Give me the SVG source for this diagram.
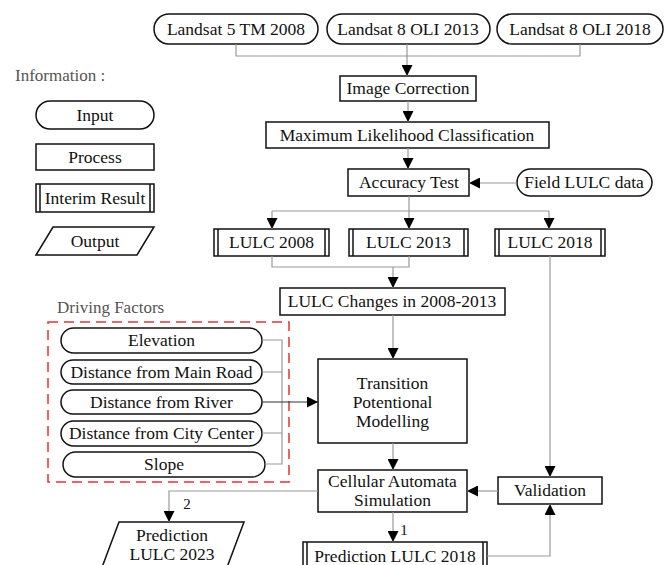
<svg xmlns="http://www.w3.org/2000/svg" width="671" height="565" viewBox="0 0 671 565">
<style>
text{font-family:"Liberation Serif","Times New Roman",serif;font-size:17.5px;fill:#111;text-anchor:middle}
.lbl{font-size:17px;fill:#555;text-anchor:start}
.box{fill:#fff;stroke:#111;stroke-width:1.5}
.ln{fill:none;stroke:#999;stroke-width:1.2}
.lnd{fill:none;stroke:#333;stroke-width:1.2}
.dash{fill:none;stroke:#e8322f;stroke-width:1.5;stroke-dasharray:10 6}
</style>
<defs>
<marker id="ah" viewBox="0 0 10 10" refX="10" refY="5" markerWidth="11" markerHeight="11" markerUnits="userSpaceOnUse" orient="auto">
<path d="M0,0 L10,5 L0,10 Z" fill="#000"/>
</marker>
</defs>

<!-- legend -->
<g id="legend">
<text class="lbl" x="15" y="81">Information :</text>
<rect class="box" x="36" y="101" width="118" height="28" rx="14"/>
<text x="95" y="121">Input</text>
<rect class="box" x="36" y="144" width="118" height="26"/>
<text x="95" y="163">Process</text>
<rect class="box" x="36" y="184" width="118" height="28"/>
<line class="box" x1="40" y1="184" x2="40" y2="212"/>
<line class="box" x1="150" y1="184" x2="150" y2="212"/>
<text x="95" y="204">Interim Result</text>
<polygon class="box" points="53,227 154,227 137,255 36,255"/>
<text x="95" y="247">Output</text>
</g>

<g id="in2008"><rect class="box" x="154" y="14" width="164" height="30" rx="15"/><text x="236" y="35">Landsat 5 TM 2008</text></g>
<g id="in2013"><rect class="box" x="327" y="14" width="163" height="30" rx="15"/><text x="408" y="35">Landsat 8 OLI 2013</text></g>
<g id="in2018"><rect class="box" x="497" y="14" width="166" height="30" rx="15"/><text x="580" y="35">Landsat 8 OLI 2018</text></g>

<g id="imgcorr"><rect class="box" x="340" y="76" width="136" height="25"/><text x="408" y="94">Image Correction</text></g>
<g id="mlc"><rect class="box" x="266" y="122" width="283" height="26"/><text x="407" y="141">Maximum Likelihood Classification</text></g>
<g id="acc"><rect class="box" x="348" y="169" width="121" height="27"/><text x="409" y="188">Accuracy Test</text></g>
<g id="field"><rect class="box" x="517" y="169" width="135" height="27" rx="13.5"/><text x="584" y="188">Field LULC data</text></g>

<g id="lulc2008"><rect class="box" x="214" y="229" width="115" height="27"/><line class="box" x1="218" y1="229" x2="218" y2="256"/><line class="box" x1="325" y1="229" x2="325" y2="256"/><text x="271.5" y="248">LULC 2008</text></g>
<g id="lulc2013"><rect class="box" x="349" y="229" width="119" height="27"/><line class="box" x1="353" y1="229" x2="353" y2="256"/><line class="box" x1="464" y1="229" x2="464" y2="256"/><text x="408.5" y="248">LULC 2013</text></g>
<g id="lulc2018"><rect class="box" x="495" y="229" width="110" height="27"/><line class="box" x1="499" y1="229" x2="499" y2="256"/><line class="box" x1="601" y1="229" x2="601" y2="256"/><text x="550" y="248">LULC 2018</text></g>

<g id="changes"><rect class="box" x="280" y="288" width="225" height="27"/><text x="392" y="307">LULC Changes in 2008-2013</text></g>

<g id="driving">
<text class="lbl" x="57" y="313">Driving Factors</text>
<rect class="dash" x="48" y="322" width="241" height="160"/>
</g>
<g id="elev"><rect class="box" x="61" y="328" width="201" height="25" rx="12.5"/><text x="161.5" y="346">Elevation</text></g>
<g id="road"><rect class="box" x="61" y="360" width="201" height="24" rx="12"/><text x="161.5" y="378">Distance from Main Road</text></g>
<g id="river"><rect class="box" x="61" y="390" width="201" height="24" rx="12"/><text x="161.5" y="408">Distance from River</text></g>
<g id="city"><rect class="box" x="61" y="421" width="201" height="25" rx="12.5"/><text x="161.5" y="439">Distance from City Center</text></g>
<g id="slope"><rect class="box" x="63" y="452" width="202" height="25" rx="12.5"/><text x="164" y="470">Slope</text></g>

<g id="transition"><rect class="box" x="318" y="359" width="149" height="84"/><text x="392.5" y="389">Transition</text><text x="392.5" y="408">Potentional</text><text x="392.5" y="427">Modelling</text></g>
<g id="ca"><rect class="box" x="318" y="470" width="149" height="42"/><text x="392.5" y="487">Cellular Automata</text><text x="392.5" y="506">Simulation</text></g>
<g id="validation"><rect class="box" x="498" y="477" width="104" height="27"/><text x="550" y="496">Validation</text></g>
<g id="pred2018"><rect class="box" x="303" y="542" width="184" height="30"/><line class="box" x1="307" y1="542" x2="307" y2="572"/><line class="box" x1="483" y1="542" x2="483" y2="572"/><text x="395" y="562">Prediction LULC 2018</text></g>
<g id="pred2023"><polygon class="box" points="119,522 244,522 226,570 101,570"/><text x="172" y="541">Prediction</text><text x="172" y="560">LULC 2023</text></g>

<g id="connectors">
<path class="ln" d="M236,44 V56 H580 V44 M407,44 V56"/>
<path class="ln" d="M407,56 V76" marker-end="url(#ah)"/>
<path class="ln" d="M408,101 V122" marker-end="url(#ah)"/>
<path class="ln" d="M408,148 V169" marker-end="url(#ah)"/>
<path class="ln" d="M517,183 H469" marker-end="url(#ah)"/>
<path class="ln" d="M409,196 V211 M272,211 H549"/>
<path class="ln" d="M272,211 V229" marker-end="url(#ah)"/>
<path class="ln" d="M409,211 V229" marker-end="url(#ah)"/>
<path class="ln" d="M549,211 V229" marker-end="url(#ah)"/>
<path class="ln" d="M272,256 V267 H409 V256"/>
<path class="ln" d="M393,267 V288" marker-end="url(#ah)"/>
<path class="ln" d="M393,315 V359" marker-end="url(#ah)"/>
<path class="ln" d="M262,340 H282 V464 H265 M262,372 H282 M262,433 H282"/>
<path class="lnd" d="M262,402 H318" marker-end="url(#ah)"/>
<path class="ln" d="M393,443 V470" marker-end="url(#ah)"/>
<path class="ln" d="M550,256 V477" marker-end="url(#ah)"/>
<path class="ln" d="M498,491 H467" marker-end="url(#ah)"/>
<path class="ln" d="M393,512 V542" marker-end="url(#ah)"/>
<text x="404" y="535" style="font-size:15px">1</text>
<path class="ln" d="M487,556 H550 V504" marker-end="url(#ah)"/>
<path class="ln" d="M318,491 H169 V522" marker-end="url(#ah)"/>
<text x="187" y="509" style="font-size:15px">2</text>
</g>
</svg>
